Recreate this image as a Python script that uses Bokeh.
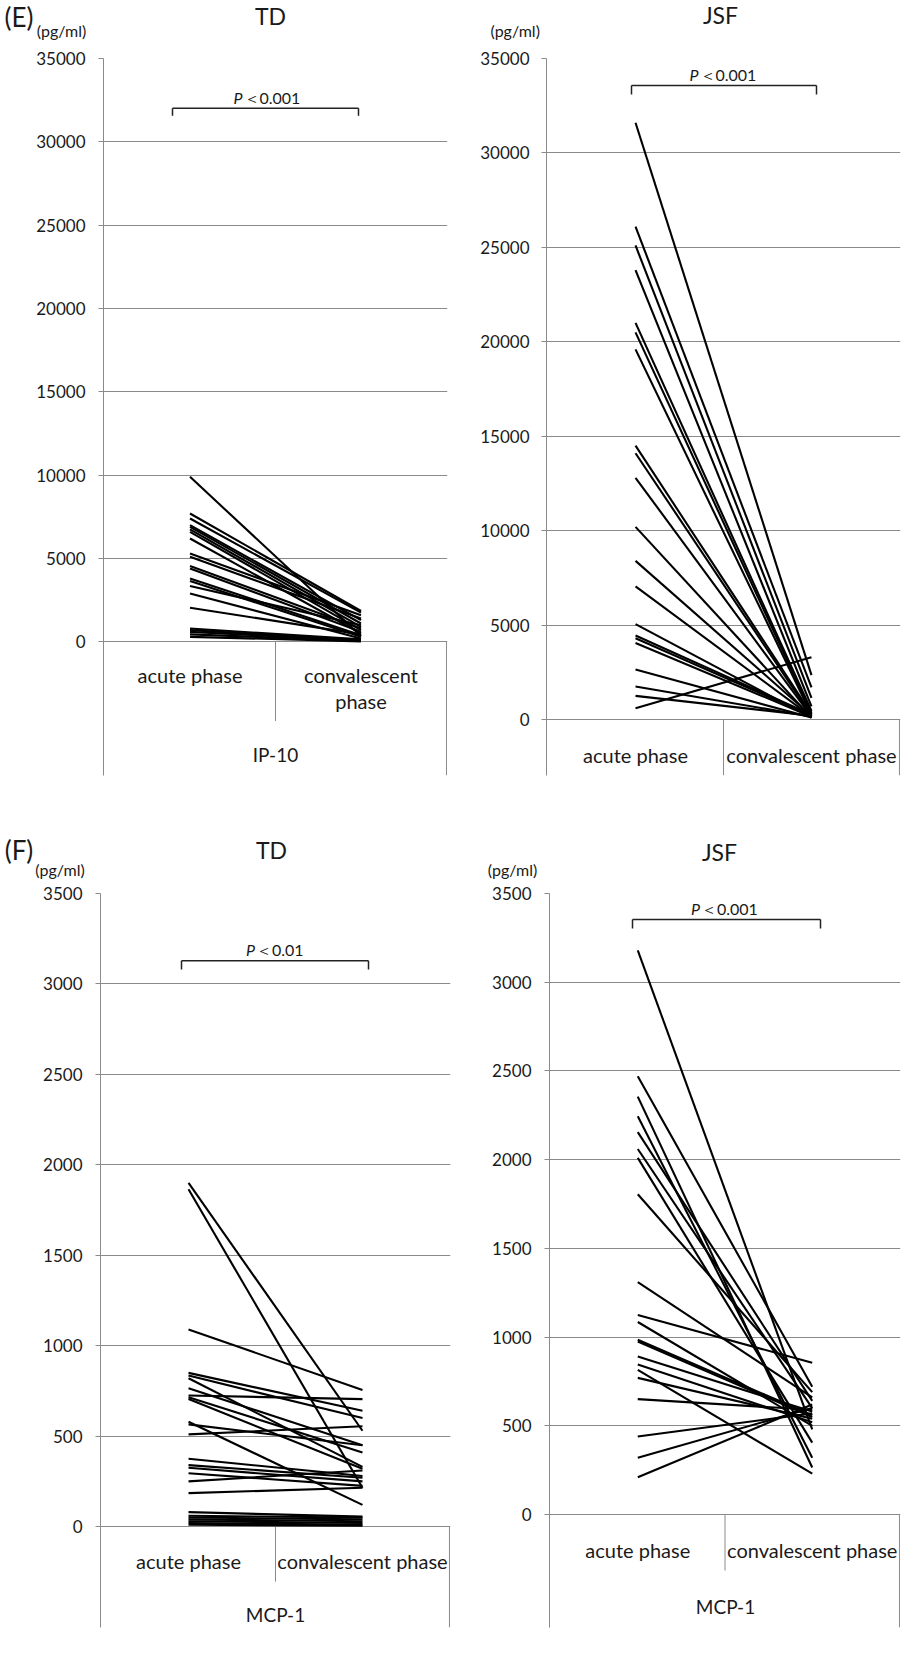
from bokeh.plotting import figure
from bokeh.models import FactorRange, Range1d, FixedTicker, Label, NumeralTickFormatter, ColumnDataSource
from bokeh.layouts import column, row
from bokeh.embed import file_html
from bokeh.resources import INLINE
from bokeh.core.properties import value

# ---------------- data ----------------
phases = ["acute phase", "convalescent phase"]

ip10_td_acute = [9900, 7700, 7400, 7000, 6900, 6750, 6600, 6200, 5300, 5100, 4550,
                 4400, 3800, 3650, 3350, 2900, 2050, 800, 700, 600, 450, 300]
ip10_td_conv = [350, 1850, 1750, 1300, 1100, 900, 700, 500, 1600, 1400, 800,
                600, 400, 300, 1000, 200, 450, 150, 100, 80, 50, 30]

ip10_jsf_acute = [31600, 26100, 25100, 23800, 21000, 20500, 19600, 14500, 14100, 12800,
                  10200, 8400, 7050, 5050, 4450, 4300, 4050, 2650, 1750, 1250, 600]
ip10_jsf_conv = [2350, 1700, 1150, 700, 450, 350, 250, 300, 200, 150,
                 100, 200, 150, 100, 250, 200, 150, 100, 150, 200, 3300]

mcp1_td_acute = [1900, 1865, 1090, 850, 835, 820, 765, 725, 715, 705, 580, 565, 510,
                 375, 340, 325, 295, 250, 185, 80, 60, 50, 40, 30, 20, 10]
mcp1_td_conv = [530, 215, 755, 640, 600, 330, 450, 705, 410, 320, 120, 450, 555,
                280, 270, 250, 225, 310, 215, 55, 50, 40, 30, 20, 10, 5]

mcp1_jsf_acute = [3180, 2470, 2355, 2245, 2155, 2060, 2010, 1805, 1310, 1125, 1085,
                  985, 975, 890, 845, 815, 770, 650, 440, 320, 210]
mcp1_jsf_conv = [480, 720, 265, 320, 640, 600, 405, 690, 660, 855, 500,
                 560, 550, 580, 520, 230, 540, 590, 570, 600, 620]

ip10_ticks = [0, 5000, 10000, 15000, 20000, 25000, 30000, 35000]
mcp1_ticks = [0, 500, 1000, 1500, 2000, 2500, 3000, 3500]

panel_letters = ["(E)", "(F)"]
groups = ["TD", "JSF"]
cytokines = ["IP-10", "MCP-1"]
p_texts = ["＜0.001", "＜0.001", "＜0.01", "＜0.001"]
unit_label = "(pg/ml)"

# ---------------- style ----------------
FONT = "Lato"
GRID = "#8a8a8a"
INK = "#000000"
TXT = "#1a1a1a"
PAD = 0.006


def make_header(box, items):
    """A text-only strip; box = (x0, y0, w, h) in page pixels."""
    x0, y0, w, h = box
    p = figure(width=w, height=h, x_range=Range1d(x0, x0 + w), y_range=Range1d(y0 + h, y0),
               x_axis_location=None, y_axis_location=None, toolbar_location=None,
               output_backend="svg", min_border=0, background_fill_color="white",
               border_fill_color="white")
    p.outline_line_color = None
    p.xgrid.visible = False
    p.ygrid.visible = False
    for txt, px, py, size in items:
        p.text(x=[px], y=[py], text=[txt], text_align="center", text_baseline="middle",
               text_font=value(FONT), text_font_size=size, text_color=TXT)
    return p


def make_panel(acute, conv, ticks, g):
    ymax = ticks[-1]
    fx0, fy0, fw, fh = g["fig"]
    fl, fr, top, zero, bottom = g["fl"], g["fr"], g["top"], g["zero"], g["bottom"]
    ppu = (zero - top) / ymax
    y_start = -(bottom - zero) / ppu

    def X(px):
        return -PAD + (px - fl) / (fr - fl) * (2 + 2 * PAD)

    def Y(py):
        return (zero - py) / ppu

    bl = fl - fx0
    bt = top - fy0
    br = fw - bl - (fr - fl)
    bb = fh - bt - (bottom - top)

    p = figure(width=fw, height=fh,
               x_range=FactorRange(factors=phases, range_padding=PAD, range_padding_units="absolute"),
               y_range=Range1d(y_start, ymax),
               x_axis_location=None, toolbar_location=None, output_backend="svg",
               min_border_left=bl, min_border_right=br, min_border_top=bt, min_border_bottom=bb,
               background_fill_color="white", border_fill_color="white")
    p.outline_line_color = None
    p.xgrid.grid_line_color = None
    p.ygrid.ticker = FixedTicker(ticks=ticks)
    p.ygrid.grid_line_color = GRID
    p.ygrid.grid_line_width = 1

    ax = p.yaxis[0]
    ax.ticker = FixedTicker(ticks=ticks)
    ax.formatter = NumeralTickFormatter(format="0")
    ax.axis_line_color = GRID
    ax.major_tick_line_color = GRID
    ax.major_tick_in = 0
    ax.major_tick_out = 5
    ax.minor_tick_line_color = None
    ax.major_label_standoff = g["standoff"]
    ax.major_label_text_font = FONT
    ax.major_label_text_font_size = "17px"
    ax.major_label_text_color = TXT

    # category structure below the zero line
    p.segment(x0=[1.0], y0=[0], x1=[1.0], y1=[Y(g["div_bottom"])], line_color=GRID, line_width=1)
    p.segment(x0=[2.0], y0=[0], x1=[2.0], y1=[Y(g["right_bottom"])], line_color=GRID, line_width=1)

    # paired lines
    src = ColumnDataSource(dict(xs=[list(phases) for _ in acute],
                                ys=[[a, c] for a, c in zip(acute, conv)]))
    p.multi_line(xs="xs", ys="ys", source=src, line_color=INK, line_width=2.1)

    # category labels
    cx, cy, ct = [], [], []
    for name, lines in zip(phases, g["cat_lines"]):
        for txt, py in lines:
            cx.append(name)
            cy.append(Y(py))
            ct.append(txt)
    p.text(x=cx, y=cy, text=ct, text_align="center", text_baseline="middle",
           text_font=value(FONT), text_font_size="20px", text_color=TXT)
    if g.get("group"):
        gt, gpx, gpy = g["group"]
        p.text(x=[X(gpx)], y=[Y(gpy)], text=[gt], text_align="center", text_baseline="middle",
               text_font=value(FONT), text_font_size="19px", text_color=TXT)

    # significance bracket
    bx0, bx1, by, byt = g["bracket"]
    p.segment(x0=[X(bx0), X(bx0), X(bx1)], y0=[Y(by), Y(by), Y(by)],
              x1=[X(bx1), X(bx0), X(bx1)], y1=[Y(by), Y(byt), Y(byt)],
              line_color="#222222", line_width=1.5)
    split, pty, ptxt = g["pval"]
    p.add_layout(Label(x=X(split), y=Y(pty), text="P", text_align="right", text_baseline="middle",
                       text_font=FONT, text_font_style="italic", text_font_size="16px", text_color=TXT))
    p.add_layout(Label(x=X(split + 1), y=Y(pty), text=ptxt, text_align="left", text_baseline="middle",
                       text_font=FONT, text_font_size="16px", text_color=TXT))
    return p


# ---------------- layout (page pixels) ----------------
hdr_e_td = make_header((8, 8, 462, 40), [(panel_letters[0], 26.5, 24, "26px"),
                                         (groups[0], 278, 23, "23px"),
                                         (unit_label, 69, 37.5, "16px")])
hdr_e_jsf = make_header((470, 8, 440, 40), [(groups[1], 728, 22, "23px"),
                                            (unit_label, 522.7, 37.5, "16px")])
hdr_f_td = make_header((8, 828, 462, 60), [(panel_letters[1], 26.5, 857, "26px"),
                                           (groups[0], 279, 857, "23px"),
                                           (unit_label, 67.5, 877, "16px")])
hdr_f_jsf = make_header((470, 828, 440, 60), [(groups[1], 727, 859, "23px"),
                                              (unit_label, 520, 877, "16px")])

geo_e_td = dict(fig=(8, 48, 462, 780), fl=111, fr=455, top=59, zero=670, bottom=810,
                div_bottom=753, right_bottom=810, standoff=13,
                cat_lines=[[(phases[0], 705)], [("convalescent", 705), ("phase", 732)]],
                group=(cytokines[0], 283, 788),
                bracket=(180, 366, 111, 119), pval=(250, 99.5, p_texts[0]))

geo_e_jsf = dict(fig=(470, 48, 440, 780), fl=554, fr=908, top=66, zero=727, bottom=783,
                 div_bottom=783, right_bottom=783, standoff=12,
                 cat_lines=[[(phases[0], 762)], [(phases[1], 762)]],
                 group=None,
                 bracket=(639, 824, 93, 102), pval=(706, 81.5, p_texts[1]))

geo_f_td = dict(fig=(8, 888, 462, 765), fl=108, fr=458, top=899, zero=1548.5, bottom=1652,
                div_bottom=1605, right_bottom=1652, standoff=13,
                cat_lines=[[(phases[0], 1584)], [(phases[1], 1584)]],
                group=(cytokines[1], 283, 1639),
                bracket=(189, 376, 968, 977), pval=(262.5, 956.7, p_texts[2]))

geo_f_jsf = dict(fig=(470, 888, 440, 765), fl=557, fr=908, top=901, zero=1522, bottom=1635,
                 div_bottom=1578, right_bottom=1635, standoff=13,
                 cat_lines=[[(phases[0], 1557)], [(phases[1], 1557)]],
                 group=(cytokines[1], 733, 1614),
                 bracket=(640, 828, 927, 936), pval=(707.5, 916, p_texts[3]))

p1 = make_panel(ip10_td_acute, ip10_td_conv, ip10_ticks, geo_e_td)
p2 = make_panel(ip10_jsf_acute, ip10_jsf_conv, ip10_ticks, geo_e_jsf)
p3 = make_panel(mcp1_td_acute, mcp1_td_conv, mcp1_ticks, geo_f_td)
p4 = make_panel(mcp1_jsf_acute, mcp1_jsf_conv, mcp1_ticks, geo_f_jsf)

layout = column(row(hdr_e_td, hdr_e_jsf, spacing=0),
                row(p1, p2, spacing=0),
                row(hdr_f_td, hdr_f_jsf, spacing=0),
                row(p3, p4, spacing=0), spacing=0)
open("out.html", "w").write(file_html(layout, INLINE))
